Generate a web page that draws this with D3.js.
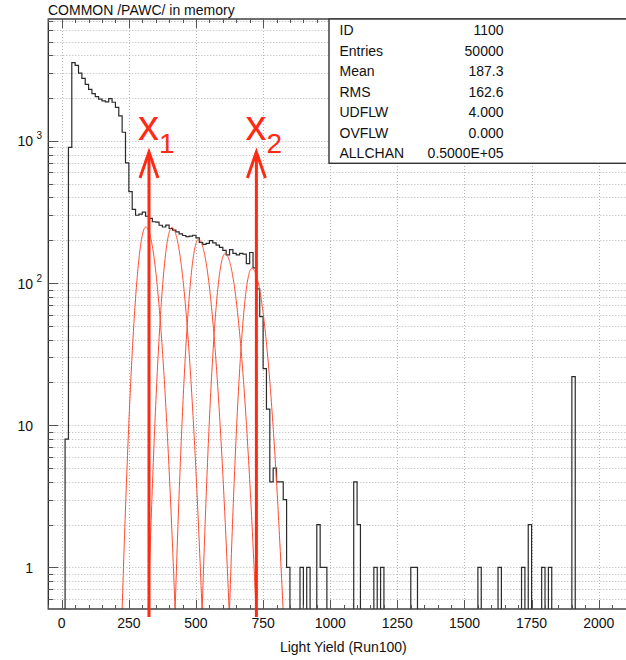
<!DOCTYPE html>
<html>
<head>
<meta charset="utf-8">
<script src="https://cdn.jsdelivr.net/npm/d3@7"></script>
<style>
	body { margin: 0; background: #fff; }
	svg { display: block; font-family: "Liberation Sans", Arial, sans-serif; }
</style>
</head>
<body>
<svg></svg>
<script>
// histogram: 12.5 wide bins, main body starts at 0
const binWidth = 12.5
const mainStart = 0
const mainCounts = [
	0, 8, 900, 3550, 3400, 3000, 2750, 2500, 2300, 2150,
	2050, 1970, 1910, 1880, 1980, 1870, 1720, 1500, 1150, 700,
	440, 330, 300, 305, 315, 295, 285, 270, 268, 255,
	248, 256, 242, 236, 229, 222, 216, 212, 214, 217,
	208, 193, 187, 190, 199, 192, 185, 178, 170, 158,
	172, 162, 158, 162, 160, 137, 164, 128, 91, 58,
	25, 13, 4, 5, 4, 4, 3, 1
]
// sparse tail (bin low edge -> entries)
const tailEdges = [887.5, 912.5, 950, 962.5, 975, 1087.5, 1100, 1162.5, 1187.5, 1300, 1312.5, 1550, 1625, 1712.5, 1737.5, 1787.5, 1812.5, 1900]
const tailCounts = [1, 1, 2, 1, 1, 4, 2, 1, 1, 1, 1, 1, 1, 1, 2, 1, 1, 22]

const xTicks = [0, 250, 500, 750, 1000, 1250, 1500, 1750, 2000]
const yTickValues = [1, 10, 100, 1000]
const yTickBase = ["1", "10", "10", "10"]
const yTickSup = ["", "", "2", "3"]

const statNames = ["ID", "Entries", "Mean", "RMS", "UDFLW", "OVFLW", "ALLCHAN"]
const statValues = ["1100", "50000", "187.3", "162.6", "4.000", "0.000", "0.5000E+05"]

// the red single-peak curves (peak position, height, left/right width)
const fitMeans = [313, 410, 509, 608, 708]
const fitAmps = [248, 246, 203, 161, 127]
const fitSigmaL = [25, 25, 25, 25, 25]
const fitSigmaR = [31, 32, 33, 34, 35]

const markerX = [325, 725]
const markerSub = ["1", "2"]

const svg = d3.select("svg").attr("width", 626).attr("height", 660)

const x = d3.scaleLinear().domain([-50, 2150]).range([48.3, 639])
const y = d3.scaleLog().domain([0.51, 7200]).range([609, 19])
const [plotLeft, plotRight] = x.range()
const [plotBottom, plotTop] = y.range()

svg.append("defs")
	.append("clipPath")
	.attr("id", "plot")
	.append("rect")
	.attr("x", plotLeft)
	.attr("y", plotTop)
	.attr("width", plotRight - plotLeft)
	.attr("height", plotBottom - plotTop)

// title
svg.append("text")
	.attr("x", 48)
	.attr("y", 15)
	.style("font-size", "14px")
	.style("fill", "#111")
	.text("COMMON /PAWC/ in memory")

// log grid values 1..9 per decade
const gridVals = []
;[0.1, 1, 10, 100, 1000].forEach(dec => {
	d3.range(1, 10).forEach(m => {
		const v = dec * m
		if (v > 0.51 && v < 7200) gridVals.push(v)
	})
})

const grid = svg.append("g")
	.attr("stroke", "#b4b4b4")
	.attr("stroke-dasharray", "1,2")
	.attr("stroke-width", 1)

grid.selectAll("line.h")
	.data(gridVals)
	.enter()
	.append("line")
	.attr("class", "h")
	.attr("x1", plotLeft)
	.attr("x2", plotRight)
	.attr("y1", d => Math.round(y(d)) + 0.5)
	.attr("y2", d => Math.round(y(d)) + 0.5)

grid.selectAll("line.v")
	.data(xTicks)
	.enter()
	.append("line")
	.attr("class", "v")
	.attr("x1", d => Math.round(x(d)) + 0.5)
	.attr("x2", d => Math.round(x(d)) + 0.5)
	.attr("y1", plotTop)
	.attr("y2", plotBottom)

// full set of bins
const bins = d3.range(-50, 2150, binWidth).map(e => ({ e: e, c: 0 }))
const binIndex = e => Math.round((e + 50) / binWidth)
mainCounts.forEach((c, i) => {
	bins[binIndex(mainStart + i * binWidth)].c = c
})
tailEdges.forEach((e, i) => {
	bins[binIndex(e)].c = tailCounts[i]
})
bins.push({ e: 2150, c: 0 })

const histLine = d3.line()
	.x(d => x(d.e))
	.y(d => (d.c > 0 ? y(d.c) : plotBottom + 3))
	.curve(d3.curveStepAfter)

svg.append("path")
	.datum(bins)
	.attr("clip-path", "url(#plot)")
	.attr("d", histLine)
	.attr("fill", "none")
	.attr("stroke", "#2a2a2a")
	.attr("stroke-width", 1.2)

// red curves
const curveLine = d3.line()
	.x(d => x(d[0]))
	.y(d => y(Math.max(d[1], 0.2)))

const fits = fitMeans.map((m, i) => {
	return d3.range(m - 4 * fitSigmaL[i], m + 4 * fitSigmaR[i], 1).map(v => {
		const s = v < m ? fitSigmaL[i] : fitSigmaR[i]
		return [v, fitAmps[i] * Math.exp(-((v - m) * (v - m)) / (2 * s * s))]
	})
})

svg.append("g")
	.attr("clip-path", "url(#plot)")
	.selectAll("path")
	.data(fits)
	.enter()
	.append("path")
	.attr("d", d => curveLine(d))
	.attr("fill", "none")
	.attr("stroke", "#ff4a2e")
	.attr("stroke-width", 1)

// frame
svg.append("rect")
	.attr("x", plotLeft)
	.attr("y", plotTop)
	.attr("width", plotRight - plotLeft)
	.attr("height", plotBottom - plotTop)
	.attr("fill", "none")
	.attr("stroke", "#333")
	.attr("stroke-width", 1.4)

// ticks
const ticks = svg.append("g").attr("stroke", "#555").attr("stroke-width", 1)
const xMinor = d3.range(-50, 2151, 50)

ticks.selectAll("line.xb")
	.data(xMinor)
	.enter()
	.append("line")
	.attr("x1", d => Math.round(x(d)) + 0.5)
	.attr("x2", d => Math.round(x(d)) + 0.5)
	.attr("y1", plotBottom)
	.attr("y2", d => plotBottom - (d % 250 === 0 ? 9 : 4))

ticks.selectAll("line.xt")
	.data(xMinor)
	.enter()
	.append("line")
	.attr("x1", d => Math.round(x(d)) + 0.5)
	.attr("x2", d => Math.round(x(d)) + 0.5)
	.attr("y1", plotTop)
	.attr("y2", d => plotTop + (d % 250 === 0 ? 9 : 4))

ticks.selectAll("line.yl")
	.data(gridVals)
	.enter()
	.append("line")
	.attr("x1", plotLeft)
	.attr("x2", d => plotLeft + (yTickValues.includes(d) ? 10 : 5))
	.attr("y1", d => Math.round(y(d)) + 0.5)
	.attr("y2", d => Math.round(y(d)) + 0.5)

// x labels
svg.append("g")
	.selectAll("text")
	.data(xTicks)
	.enter()
	.append("text")
	.attr("x", d => x(d))
	.attr("y", 628)
	.attr("text-anchor", "middle")
	.style("font-size", "14px")
	.style("fill", "#111")
	.text(d => d)

svg.append("text")
	.attr("x", (plotLeft + plotRight) / 2 - 0.3)
	.attr("y", 652)
	.attr("text-anchor", "middle")
	.style("font-size", "14px")
	.style("fill", "#111")
	.text("Light Yield (Run100)")

// y labels
const yLab = svg.append("g")
	.selectAll("g")
	.data(yTickValues)
	.enter()
	.append("g")

yLab.append("text")
	.attr("x", 33)
	.attr("y", d => y(d) + 5.5)
	.attr("text-anchor", "end")
	.style("font-size", "14px")
	.style("fill", "#111")
	.text((d, i) => yTickBase[i])

yLab.append("text")
	.attr("x", 36.5)
	.attr("y", d => y(d) - 1.5)
	.style("font-size", "10px")
	.style("fill", "#111")
	.text((d, i) => yTickSup[i])

// stats box
svg.append("rect")
	.attr("x", 329)
	.attr("y", plotTop)
	.attr("width", 400)
	.attr("height", 144.3)
	.attr("fill", "#fff")
	.attr("stroke", "#333")
	.attr("stroke-width", 1.4)

const rows = svg.append("g")
	.selectAll("g")
	.data(statNames)
	.enter()
	.append("g")
	.attr("transform", (d, i) => `translate(0, ${35 + i * 20.55})`)
	.style("font-size", "14px")
	.style("fill", "#111")

rows.append("text")
	.attr("x", 339.5)
	.text(d => d)

rows.append("text")
	.attr("x", 503.5)
	.attr("text-anchor", "end")
	.text((d, i) => statValues[i])

// x1 / x2 markers
const markers = svg.append("g")
	.selectAll("g")
	.data(markerX)
	.enter()
	.append("g")

markers.append("line")
	.attr("x1", d => x(d))
	.attr("x2", d => x(d))
	.attr("y1", 617)
	.attr("y2", 153)
	.attr("stroke", "#ff2a14")
	.attr("stroke-width", 3)

markers.append("polyline")
	.attr("points", d => `${x(d) - 9},178 ${x(d)},152 ${x(d) + 9},178`)
	.attr("fill", "none")
	.attr("stroke", "#ff2a14")
	.attr("stroke-width", 3)

const mLab = markers.append("text")
	.attr("x", d => x(d) - 11)
	.attr("y", 140)
	.style("fill", "#ff2a14")

mLab.append("tspan")
	.style("font-size", "42px")
	.text("x")

mLab.append("tspan")
	.attr("dy", 12.5)
	.style("font-size", "28px")
	.text((d, i) => markerSub[i])
</script>
</body>
</html>
